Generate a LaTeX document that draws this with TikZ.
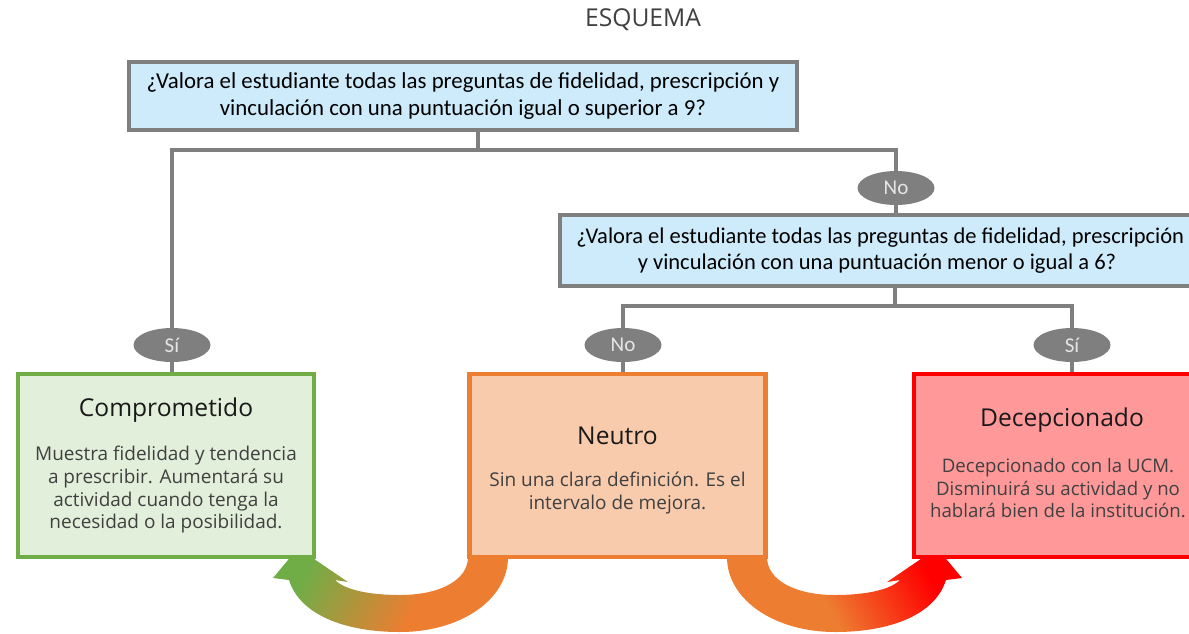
\documentclass[tikz,border=0pt]{standalone}
\usepackage{fontspec}
\setmainfont{Open Sans}
\newfontfamily\qfont{Carlito}
\usetikzlibrary{shapes.geometric}
\definecolor{cgray}{HTML}{7F7F7F}
\definecolor{cblue}{HTML}{CDEBFB}
\definecolor{cgreen}{HTML}{70AD47}
\definecolor{cgreenf}{HTML}{E2EFDA}
\definecolor{corange}{HTML}{ED7D31}
\definecolor{corangef}{HTML}{F8CBAD}
\definecolor{cred}{HTML}{FF0000}
\definecolor{credf}{HTML}{FF9999}
\definecolor{cbody}{HTML}{404040}
\pgfdeclarehorizontalshading{lgrad}{100bp}{color(0bp)=(cgreen); color(27bp)=(cgreen); color(58bp)=(corange); color(100bp)=(corange)}
\pgfdeclarehorizontalshading{rgrad}{100bp}{color(0bp)=(corange); color(44bp)=(corange); color(72bp)=(cred); color(100bp)=(cred)}
\newlength{\unitpx}\setlength{\unitpx}{0.02cm}
\tikzset{
  conn/.style={draw=cgray, line width=2.2pt},
  qbox/.style={draw=cgray, line width=2.4pt, fill=cblue, inner sep=0pt, align=center,
     font=\qfont\fontsize{13}{15}\selectfont, text=black},
  qtxt/.style={inner sep=0pt, font=\qfont\fontsize{12.8}{15}\selectfont, text=black},
  lab/.style={ellipse, fill=cgray, minimum width=77\unitpx, minimum height=34\unitpx, inner sep=0pt,
     font=\qfont\fontsize{12}{13}\selectfont, text=white!90!black},
  state/.style={line width=2.4pt, minimum width=296\unitpx, minimum height=183\unitpx, inner sep=0pt},
  ttl/.style={font=\fontsize{14}{16}\selectfont, text=black!90},
  bdy/.style={font=\fontsize{10.8}{12.9}\selectfont, text=cbody, align=center},
}
\begin{document}
\begin{tikzpicture}[x=0.02cm,y=0.02cm]
\useasboundingbox (0,0) rectangle (1189,-633);
\clip (0,0) rectangle (1189,-633);
\node[font=\fontsize{14}{16}\selectfont, text=cbody] (title) at (643,-20) {ESQUEMA};
% curved arrows
\shade[shading=lgrad, shading angle=-27]
  (508,-557) .. controls (508,-600) and (460,-632) .. (400,-632)
  .. controls (345,-632) and (300,-615) .. (289,-580)
  -- (273,-578) -- (298,-548) -- (348,-582) -- (335,-580)
  .. controls (345,-590) and (370,-595) .. (400,-595)
  .. controls (440,-595) and (468,-580) .. (468,-557) -- cycle;
\shade[shading=rgrad, shading angle=27]
  (727,-557) .. controls (727,-600) and (775,-632) .. (835,-632)
  .. controls (890,-632) and (935,-615) .. (946,-580)
  -- (962,-578) -- (937,-548) -- (887,-582) -- (900,-580)
  .. controls (890,-590) and (865,-595) .. (835,-595)
  .. controls (795,-595) and (767,-580) .. (767,-557) -- cycle;
% questions
\node[qbox, minimum width=668\unitpx, minimum height=68\unitpx] (q1) at (463,-96)
  {¿Valora el estudiante todas las preguntas de fidelidad, prescripción y\\vinculación con una puntuación igual o superior a 9?};
\node[qbox, minimum width=670\unitpx, minimum height=71\unitpx] (q2) at (895,-250.5) {};
\node[qtxt, anchor=west, align=left] (q2t) at (576,-250.5)
  {¿Valora el estudiante todas las preguntas de fidelidad, prescripción\\\hspace*{35pt}y vinculación con una puntuación menor o igual a 6?};
% labels
\node[lab] (s1) at (172,-345) {Sí};
\node[lab] (n1) at (896,-188) {No};
\node[lab] (n2) at (623,-345) {No};
\node[lab] (s2) at (1072,-345) {Sí};
% states
\node[state, draw=cgreen, fill=cgreenf] (comp) at (166,-465.5) {};
\node[state, draw=corange, fill=corangef] (neut) at (617.5,-465.5) {};
\node[state, draw=cred, fill=credf] (decp) at (1062,-465.5) {};
\node[ttl] (compt) at (166,-410) {Comprometido};
\node[bdy, anchor=north] (compb) at (166,-440) {Muestra fidelidad y tendencia\\a  prescribir. Aumentará su\\actividad  cuando tenga la\\necesidad o la  posibilidad.};
\node[ttl] (neutt) at (617.5,-436) {Neutro};
\node[bdy, anchor=north] (neutb) at (617.5,-466) {Sin una clara definición. Es el\\intervalo de mejora.};
\node[ttl] (decpt) at (1062,-420) {Decepcionado};
\node[bdy, anchor=north, font=\fontsize{10.6}{12.9}\selectfont] (decpb) at (1058,-452) {Decepcionado con la UCM.\\Disminuirá su actividad y no\\hablará bien de la institución.};
% connectors
\coordinate (j1) at (478,-150);
\coordinate (j2) at (895,-306);
\draw[conn] (q1.south -| j1) -- (j1);
\draw[conn] (s1.north) |- (j1) -| (n1.north);
\draw[conn] (s1.south) -- (s1.south |- comp.north);
\draw[conn] (n1.south) -- (q2.north -| n1.south);
\draw[conn] (q2.south -| j2) -- (j2);
\draw[conn] (n2.north) |- (j2) -| (s2.north);
\draw[conn] (n2.south) -- (n2.south |- neut.north);
\draw[conn] (s2.south) -- (s2.south |- decp.north);
\end{tikzpicture}
\end{document}
